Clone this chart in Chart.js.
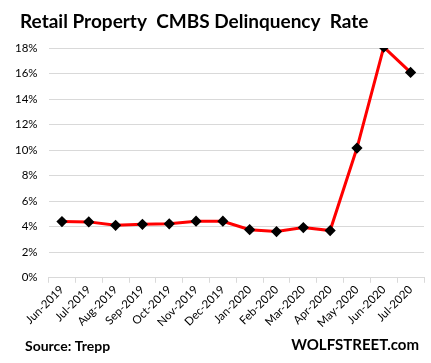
<!DOCTYPE html>
<html>
<head>
<meta charset="utf-8">
<script src="https://cdn.jsdelivr.net/npm/chart.js@4"></script>
<style>
  html, body { margin: 0; padding: 0; background: #fff; }
  #wrap { width: 431px; height: 363px; position: relative; }
</style>
</head>
<body>
<div id="wrap"><canvas id="chart"></canvas></div>
<script>
// Chart data
const months = ["Jun-2019", "Jul-2019", "Aug-2019", "Sep-2019", "Oct-2019", "Nov-2019", "Dec-2019",
                "Jan-2020", "Feb-2020", "Mar-2020", "Apr-2020", "May-2020", "Jun-2020", "Jul-2020"];
const delinquencyRate = [4.40, 4.38, 4.11, 4.19, 4.23, 4.43, 4.43, 3.77, 3.62, 3.93, 3.70, 10.16, 18.07, 16.09];
const yTicks = [0, 2, 4, 6, 8, 10, 12, 14, 16, 18];

const font = "Lato";

// Title and footer texts drawn around the chart
const extraText = {
    id: 'extraText',
    afterDraw(chart) {
        const ctx = chart.ctx;
        ctx.save();
        ctx.fillStyle = '#000';
        ctx.textBaseline = 'middle';
        ctx.textAlign = 'left';
        ctx.font = "bold 19px '" + font + "'";
        ctx.fillText("Retail Property  CMBS Delinquency  Rate", 20, 22);
        ctx.font = "bold 14px '" + font + "'";
        ctx.fillText("Source: Trepp", 25, 346);
        ctx.font = "bold 15px '" + font + "'";
        ctx.textAlign = 'right';
        ctx.fillText("WOLFSTREET.com", 419, 345);
        ctx.restore();
    }
};

function drawChart() {
    const ctx = document.getElementById("chart").getContext("2d");

    new Chart(ctx, {
        type: 'line',
        data: {
            labels: months,
            datasets: [{
                data: delinquencyRate,
                borderColor: '#ff0000',
                borderWidth: 3,
                pointStyle: 'rectRot',
                pointRadius: 3.5,
                pointBackgroundColor: '#000',
                pointBorderColor: '#000',
                tension: 0,
            }]
        },
        options: {
            responsive: true,
            maintainAspectRatio: false,
            animation: false,
            layout: { padding: { left: 4, right: 5, top: 48, bottom: 33 } },
            plugins: {
                legend: { display: false },
                tooltip: { enabled: false },
            },
            scales: {
                x: {
                    offset: true,
                    grid: { display: true, drawOnChartArea: false, color: '#d9d9d9', tickLength: 5, offset: true },
                    border: { color: '#d9d9d9' },
                    ticks: { color: '#000', minRotation: 45, maxRotation: 45, padding: 0,
                             font: { family: font, size: 11.5 } },
                },
                y: {
                    min: 0,
                    max: 18,
                    afterBuildTicks: axis => { axis.ticks = yTicks.map(v => ({ value: v })); },
                    grid: { color: '#d9d9d9', drawTicks: false },
                    border: { display: false },
                    ticks: { color: '#000', padding: 11, font: { family: font, size: 11.5 },
                             callback: v => v + '%' },
                },
            },
        },
        plugins: [extraText],
    });
}

window.addEventListener('load', drawChart);
</script>
</body>
</html>
